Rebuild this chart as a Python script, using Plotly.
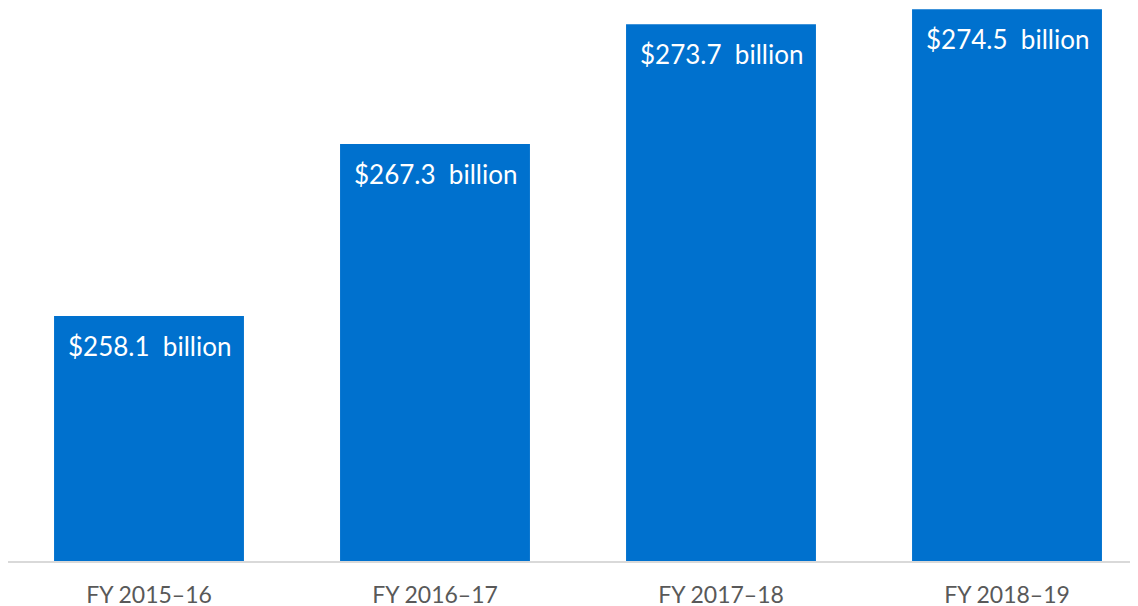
import plotly.graph_objects as go

categories = ["FY 2015\u201316", "FY 2016\u201317", "FY 2017\u201318", "FY 2018\u201319"]
values = [258.1, 267.3, 273.7, 274.5]
labels = ["$258.1\u00a0 billion", "$267.3\u00a0 billion", "$273.7\u00a0 billion", "$274.5\u00a0 billion"]

BAR = "#0071CE"
FONT = "Lato, 'Noto Sans', sans-serif"

fig = go.Figure(go.Bar(
    x=list(range(len(categories))),
    y=values,
    marker=dict(color=BAR, line=dict(width=0)),
    hoverinfo="skip",
))

fig.update_layout(
    width=1138, height=606,
    margin=dict(l=0, r=0, t=0, b=53, autoexpand=False),
    paper_bgcolor="white", plot_bgcolor="white",
    bargap=0.336,
    showlegend=False,
    font=dict(family=FONT),
    xaxis=dict(
        tickmode="array",
        tickvals=list(range(len(categories))),
        ticktext=categories,
        range=[-0.493, 3.486],
        showgrid=False, zeroline=False,
        showline=True, linecolor="#d9d9d9", linewidth=2,
        ticks="", tickfont=dict(size=23, color="#595959", family=FONT),
        ticklabelstandoff=12,
    ),
    yaxis=dict(range=[245, 274.57], showgrid=False, zeroline=False,
               showticklabels=False, showline=False, ticks=""),
)

for i, (v, t) in enumerate(zip(values, labels)):
    fig.add_annotation(x=i, y=v, text=t, showarrow=False, yanchor="top",
                       yshift=-12, font=dict(size=26, color="white", family=FONT))

fig.write_html("out.html")
